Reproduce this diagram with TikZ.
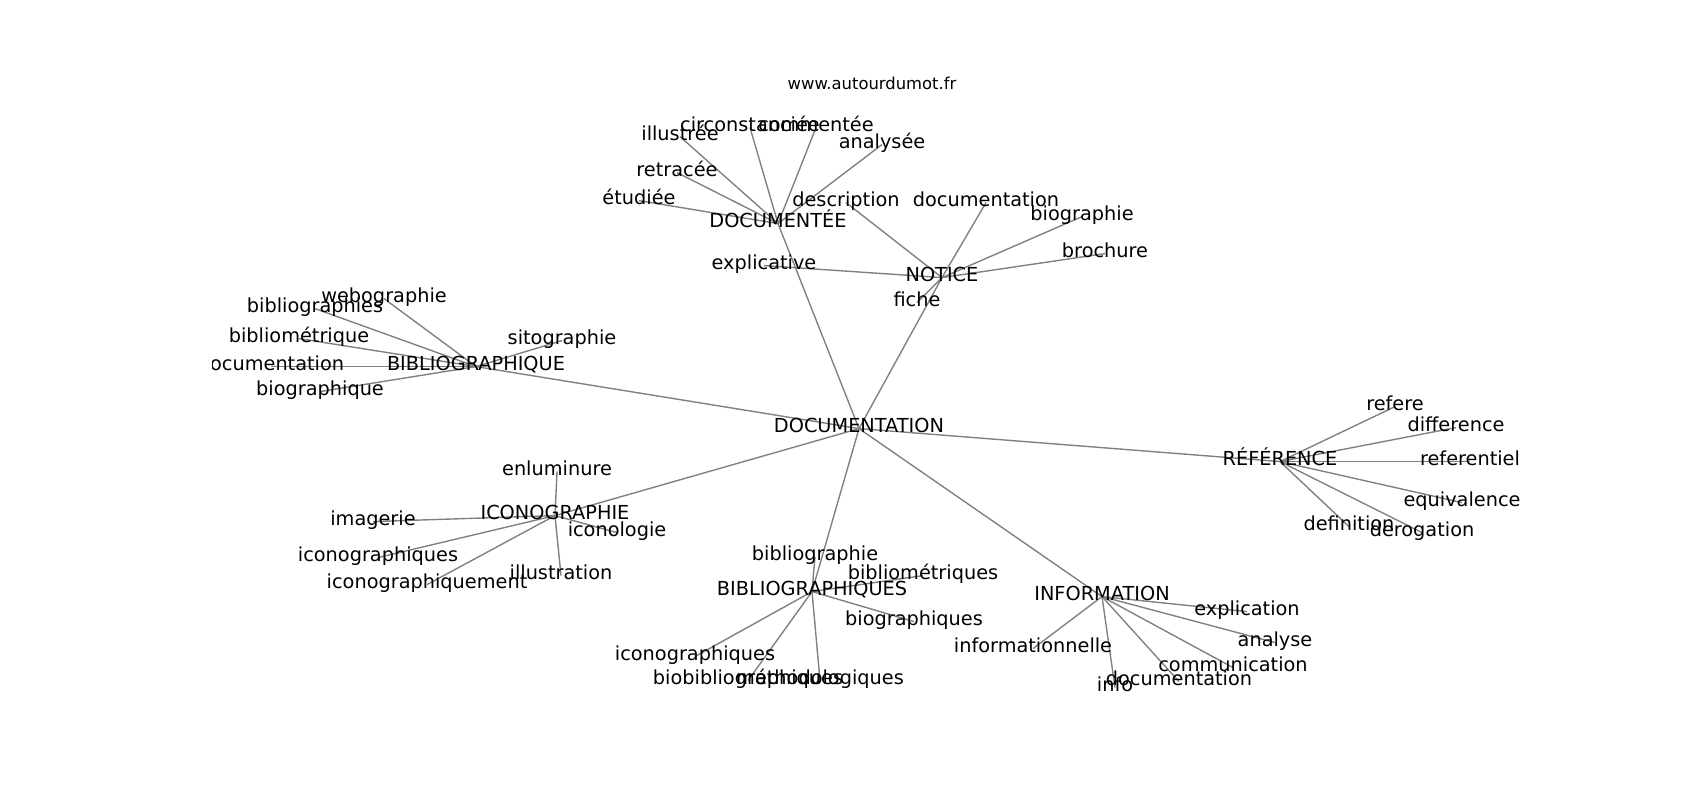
\documentclass[tikz,border=0pt]{standalone}
\usepackage{fontspec}
\setmainfont{DejaVu Sans}
\pgfdeclarelayer{background}
\pgfsetlayers{background,main}
\tikzset{
  lbl/.style={font=\fontsize{13.9}{16}\selectfont, inner sep=0pt, text height=0.76em, text depth=0.24em, anchor=center},
  ttl/.style={font=\fontsize{11.8}{14}\selectfont, inner sep=0pt, anchor=center},
  edge/.style={draw=gray, line width=1pt}
}
\begin{document}
\begin{tikzpicture}[x=0.72pt,y=-0.72pt]
\useasboundingbox (0,0) rectangle (1700,800);
\node[ttl] (title) at (872,83) {www.autourdumot.fr};
\begin{scope}
\clip (212.5,96) rectangle (1530,712);
\begin{scope}[yshift=-3.3pt]
% hubs
\node[lbl] (doc) at (859,424) {DOCUMENTATION};
\node[lbl] (dcm) at (778,219) {DOCUMENTÉE};
\node[lbl] (not) at (942,273) {NOTICE};
\node[lbl] (bib) at (476,362) {BIBLIOGRAPHIQUE};
\node[lbl] (ico) at (555,511) {ICONOGRAPHIE};
\node[lbl] (bbs) at (812,587) {BIBLIOGRAPHIQUES};
\node[lbl] (inf) at (1102,592) {INFORMATION};
\node[lbl] (ref) at (1280,457) {RÉFÉRENCE};
% DOCUMENTEE leaves
\node[lbl] (d1) at (680,132) {illustrée};
\node[lbl] (d2) at (750,123) {circonstanciée};
\node[lbl] (d3) at (816,123) {commentée};
\node[lbl] (d4) at (882,140) {analysée};
\node[lbl] (d5) at (677,168) {retracée};
\node[lbl] (d6) at (639,196) {étudiée};
% NOTICE leaves
\node[lbl] (n1) at (846,198) {description};
\node[lbl] (n2) at (986,198) {documentation};
\node[lbl] (n3) at (1082,212) {biographie};
\node[lbl] (n4) at (1105,249) {brochure};
\node[lbl] (n5) at (764,261) {explicative};
\node[lbl] (n6) at (917,298) {fiche};
% BIBLIOGRAPHIQUE leaves
\node[lbl] (b1) at (384,294) {webographie};
\node[lbl] (b2) at (315,304) {bibliographies};
\node[lbl] (b3) at (299,334) {bibliométrique};
\node[lbl] (b4) at (271,362) {documentation};
\node[lbl] (b5) at (320,387) {biographique};
\node[lbl] (b6) at (562,336) {sitographie};
% ICONOGRAPHIE leaves
\node[lbl] (i1) at (557,467) {enluminure};
\node[lbl] (i2) at (373,517) {imagerie};
\node[lbl] (i3) at (378,553) {iconographiques};
\node[lbl] (i4) at (617,528) {iconologie};
\node[lbl] (i5) at (561,571) {illustration};
\node[lbl] (i6) at (427,580) {iconographiquement};
% BIBLIOGRAPHIQUES leaves
\node[lbl] (s1) at (815,552) {bibliographie};
\node[lbl] (s2) at (923,571) {bibliométriques};
\node[lbl] (s3) at (914,617) {biographiques};
\node[lbl] (s4) at (695,652) {iconographiques};
\node[lbl] (s5) at (748,676) {biobibliographiques};
\node[lbl] (s6) at (820,676) {méthodologiques};
% INFORMATION leaves
\node[lbl] (f1) at (1247,607) {explication};
\node[lbl] (f2) at (1275,638) {analyse};
\node[lbl] (f3) at (1233,663) {communication};
\node[lbl] (f4) at (1179,677) {documentation};
\node[lbl] (f5) at (1115,683) {info};
\node[lbl] (f6) at (1033,644) {informationnelle};
% REFERENCE leaves
\node[lbl] (r1) at (1395,402) {refere};
\node[lbl] (r2) at (1456,423) {difference};
\node[lbl] (r3) at (1470,457) {referentiel};
\node[lbl] (r4) at (1462,498) {equivalence};
\node[lbl] (r5) at (1349,522) {definition};
\node[lbl] (r6) at (1422,528) {derogation};
\end{scope}
\end{scope}
\begin{pgfonlayer}{background}
\foreach \h in {dcm,not,bib,ico,bbs,inf,ref}
  \draw[edge] (doc.center) -- (\h.center);
\foreach \l in {d1,d2,d3,d4,d5,d6}
  \draw[edge] (dcm.center) -- (\l.center);
\foreach \l in {n1,n2,n3,n4,n5,n6}
  \draw[edge] (not.center) -- (\l.center);
\foreach \l in {b1,b2,b3,b4,b5,b6}
  \draw[edge] (bib.center) -- (\l.center);
\foreach \l in {i1,i2,i3,i4,i5,i6}
  \draw[edge] (ico.center) -- (\l.center);
\foreach \l in {s1,s2,s3,s4,s5,s6}
  \draw[edge] (bbs.center) -- (\l.center);
\foreach \l in {f1,f2,f3,f4,f5,f6}
  \draw[edge] (inf.center) -- (\l.center);
\foreach \l in {r1,r2,r3,r4,r5,r6}
  \draw[edge] (ref.center) -- (\l.center);
\end{pgfonlayer}
\end{tikzpicture}
\end{document}
